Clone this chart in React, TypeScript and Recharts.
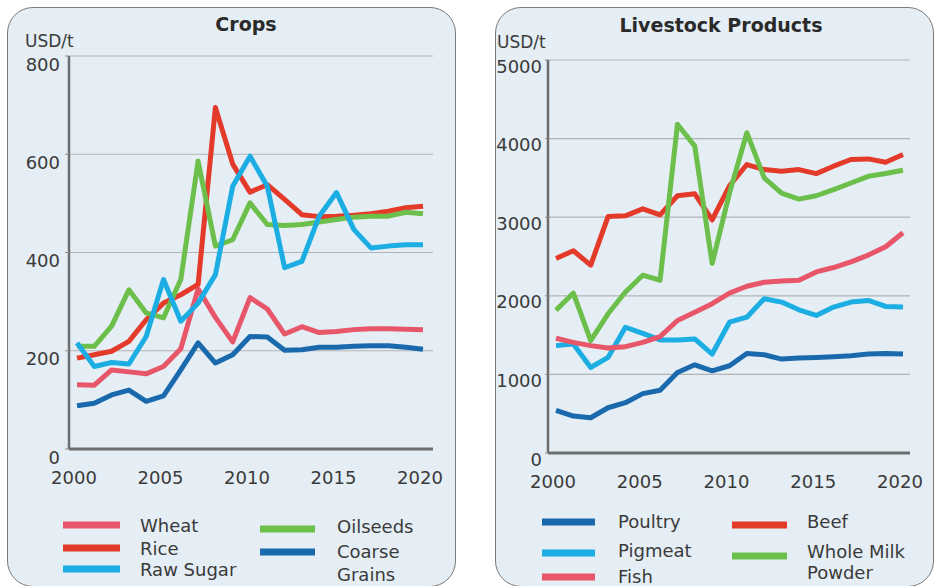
import React from 'react';
import { LineChart, Line, XAxis, YAxis, CartesianGrid, Legend } from 'recharts';

// ---------- Data ----------
const years = [2000, 2001, 2002, 2003, 2004, 2005, 2006, 2007, 2008, 2009, 2010, 2011, 2012, 2013, 2014, 2015, 2016, 2017, 2018, 2019, 2020];
const xTicks = [2000, 2005, 2010, 2015, 2020];

// Crops (USD/t)
const wheat = [131, 130, 161, 157, 153, 168, 204, 326, 268, 218, 308, 285, 234, 249, 237, 239, 243, 245, 245, 244, 243];
const rice = [185, 192, 199, 219, 263, 297, 314, 335, 695, 580, 523, 538, 508, 477, 473, 474, 476, 479, 484, 491, 494];
const rawSugar = [216, 168, 176, 173, 229, 345, 260, 297, 355, 535, 596, 535, 369, 382, 474, 522, 447, 409, 413, 416, 416];
const oilseeds = [209, 209, 250, 324, 277, 267, 345, 586, 413, 426, 501, 457, 455, 457, 462, 467, 472, 474, 474, 482, 479];
const coarseGrains = [88, 93, 110, 120, 97, 108, 161, 216, 175, 192, 229, 228, 201, 202, 207, 207, 209, 210, 210, 207, 203];
const cropTicks = [0, 200, 400, 600, 800];

// Livestock products (USD/t)
const poultry = [542, 470, 448, 576, 640, 755, 798, 1024, 1122, 1046, 1110, 1267, 1250, 1195, 1208, 1216, 1225, 1238, 1259, 1267, 1259];
const pigmeat = [1366, 1387, 1088, 1216, 1600, 1523, 1439, 1439, 1451, 1259, 1664, 1728, 1963, 1920, 1822, 1750, 1856, 1920, 1941, 1865, 1856];
const fish = [1460, 1408, 1366, 1336, 1353, 1408, 1481, 1686, 1792, 1900, 2035, 2121, 2172, 2189, 2198, 2304, 2360, 2432, 2518, 2624, 2803];
const beef = [2475, 2573, 2390, 3008, 3017, 3106, 3030, 3273, 3298, 2966, 3400, 3670, 3606, 3585, 3606, 3555, 3649, 3734, 3742, 3700, 3798];
const wholeMilkPowder = [1815, 2035, 1430, 1771, 2048, 2262, 2198, 4182, 3904, 2411, 3307, 4075, 3500, 3307, 3230, 3273, 3350, 3435, 3520, 3555, 3597];
const livestockTicks = [0, 1000, 2000, 3000, 4000, 5000];

// ---------- Tables ----------
const cropsData = years.map((year, i) => ({
  year,
  wheat: wheat[i],
  rice: rice[i],
  rawSugar: rawSugar[i],
  oilseeds: oilseeds[i],
  coarseGrains: coarseGrains[i],
}));

const livestockData = years.map((year, i) => ({
  year,
  poultry: poultry[i],
  pigmeat: pigmeat[i],
  fish: fish[i],
  beef: beef[i],
  wholeMilkPowder: wholeMilkPowder[i],
}));

// ---------- Styles ----------
const PINK = '#e8566a';
const RED = '#e43a2a';
const CYAN = '#1caee2';
const GREEN = '#6cbf4a';
const BLUE = '#1a69ad';

const FONT = '"DejaVu Sans", sans-serif';
const TEXT = '#3a3a3a';

const cropSeries = [
  { key: 'wheat', name: 'Wheat', color: PINK },
  { key: 'coarseGrains', name: 'Coarse Grains', color: BLUE },
  { key: 'rice', name: 'Rice', color: RED },
  { key: 'oilseeds', name: 'Oilseeds', color: GREEN },
  { key: 'rawSugar', name: 'Raw Sugar', color: CYAN },
];

const livestockSeries = [
  { key: 'poultry', name: 'Poultry', color: BLUE },
  { key: 'pigmeat', name: 'Pigmeat', color: CYAN },
  { key: 'fish', name: 'Fish', color: PINK },
  { key: 'beef', name: 'Beef', color: RED },
  { key: 'wholeMilkPowder', name: 'Whole Milk Powder', color: GREEN },
];

// legend layout (chart-relative coordinates)
const cropLegendPos: Record<string, any> = {
  wheat: { x1: 63, x2: 120, y: 525, tx: 140, lines: [['Wheat', 525]] },
  rice: { x1: 63, x2: 120, y: 548, tx: 140, lines: [['Rice', 548]] },
  rawSugar: { x1: 63, x2: 120, y: 569, tx: 140, lines: [['Raw Sugar', 569]] },
  oilseeds: { x1: 260, x2: 315, y: 529, tx: 337, lines: [['Oilseeds', 526]] },
  coarseGrains: { x1: 260, x2: 315, y: 552, tx: 337, lines: [['Coarse', 551], ['Grains', 574]] },
};

const livestockLegendPos: Record<string, any> = {
  poultry: { x1: 72, x2: 125, y: 522, tx: 148, lines: [['Poultry', 521]] },
  pigmeat: { x1: 72, x2: 125, y: 553, tx: 148, lines: [['Pigmeat', 550]] },
  fish: { x1: 72, x2: 125, y: 577, tx: 148, lines: [['Fish', 576]] },
  beef: { x1: 262, x2: 317, y: 525, tx: 337, lines: [['Beef', 521]] },
  wholeMilkPowder: { x1: 262, x2: 317, y: 556, tx: 337, lines: [['Whole Milk', 551], ['Powder', 572]] },
};

const makeLegend = (pos: Record<string, any>, w: number, h: number) => (props: any) => {
  const payload = props.payload || [];
  return (
    <svg width={w} height={h} style={{ position: 'absolute', left: 0, top: 0, overflow: 'visible' }}>
      {payload.map((item: any) => {
        const p = pos[item.dataKey];
        if (!p) return null;
        return (
          <g key={item.dataKey}>
            <line x1={p.x1} x2={p.x2} y1={p.y} y2={p.y} stroke={item.color} strokeWidth={7} />
            {p.lines.map((ln: any, i: number) => (
              <text key={i} x={p.tx} y={ln[1]} dominantBaseline="central" fontSize={18} fontFamily={FONT} fill={TEXT}>
                {ln[0]}
              </text>
            ))}
          </g>
        );
      })}
    </svg>
  );
};

const XTick = (props: any) => {
  const { x, y, payload } = props;
  return (
    <text x={x - 3} y={y + 13} textAnchor="middle" fontSize={18} fontFamily={FONT} fill={TEXT}>
      {payload.value}
    </text>
  );
};

const makeYTick = (dy: number) => (props: any) => {
  const { x, y, payload } = props;
  return (
    <text x={x} y={y + dy} textAnchor="end" dominantBaseline="central" fontSize={18} fontFamily={FONT} fill={TEXT}>
      {payload.value}
    </text>
  );
};

const panelStyle = (left: number, width: number): React.CSSProperties => ({
  position: 'absolute',
  left,
  top: 7,
  width,
  height: 580,
  boxSizing: 'border-box',
  border: '1.2px solid #7a7a7a',
  borderRadius: 26,
  background: '#e5eef5',
});

export default function App() {
  const LW = 460;
  const RW = 465;
  const H = 586;
  return (
    <div style={{ position: 'absolute', left: 0, top: 0, width: 935, height: 586, overflow: 'hidden', background: '#ffffff' }}>
      <div style={panelStyle(7, 449)} />
      <div style={panelStyle(495, 439)} />

      {/* Crops */}
      <div style={{ position: 'absolute', left: 0, top: 0 }}>
        <LineChart width={LW} height={H} data={cropsData} margin={{ top: 56, right: 27, bottom: 107, left: 9 }}>
          <CartesianGrid horizontal vertical={false} stroke="#b3b3b3" strokeWidth={1.2} />
          <XAxis
            dataKey="year"
            type="number"
            domain={[2000, 2020]}
            ticks={xTicks}
            padding={{ left: 8, right: 10 }}
            axisLine={{ stroke: '#6e6e6e', strokeWidth: 3 }}
            tickLine={false}
            tickSize={0}
            tickMargin={22}
            height={30}
            tick={<XTick />}
            interval={0}
          />
          <YAxis
            type="number"
            domain={[0, 800]}
            ticks={cropTicks}
            width={60}
            axisLine={{ stroke: '#6e6e6e', strokeWidth: 2.5 }}
            tickLine={{ stroke: '#8a8a8a' }}
            tickSize={4}
            tickMargin={5}
            tick={makeYTick(8)}
            interval={0}
          />
          <Legend
            layout="horizontal"
            verticalAlign="middle"
            align="center"
            wrapperStyle={{ left: 0, top: 0, width: LW, height: H, pointerEvents: 'none' }}
            content={makeLegend(cropLegendPos, LW, H)}
          />
          {cropSeries.map((s) => (
            <Line
              key={s.key}
              dataKey={s.key}
              name={s.name}
              type="linear"
              stroke={s.color}
              strokeWidth={5}
              strokeLinejoin="round"
              dot={false}
              isAnimationActive={false}
            />
          ))}
        </LineChart>
      </div>

      {/* Livestock */}
      <div style={{ position: 'absolute', left: 470, top: 0 }}>
        <LineChart width={RW} height={H} data={livestockData} margin={{ top: 60, right: 25, bottom: 103, left: 18 }}>
          <CartesianGrid horizontal vertical={false} stroke="#b3b3b3" strokeWidth={1.2} />
          <XAxis
            dataKey="year"
            type="number"
            domain={[2000, 2020]}
            ticks={xTicks}
            padding={{ left: 8, right: 7 }}
            axisLine={{ stroke: '#6e6e6e', strokeWidth: 3 }}
            tickLine={false}
            tickSize={0}
            tickMargin={22}
            height={30}
            tick={<XTick />}
            interval={0}
          />
          <YAxis
            type="number"
            domain={[0, 5000]}
            ticks={livestockTicks}
            width={60}
            axisLine={{ stroke: '#6e6e6e', strokeWidth: 2.5 }}
            tickLine={{ stroke: '#8a8a8a' }}
            tickSize={3}
            tickMargin={3}
            tick={makeYTick(6)}
            interval={0}
          />
          <Legend
            layout="horizontal"
            verticalAlign="middle"
            align="center"
            wrapperStyle={{ left: 0, top: 0, width: RW, height: H, pointerEvents: 'none' }}
            content={makeLegend(livestockLegendPos, RW, H)}
          />
          {livestockSeries.map((s) => (
            <Line
              key={s.key}
              dataKey={s.key}
              name={s.name}
              type="linear"
              stroke={s.color}
              strokeWidth={5}
              strokeLinejoin="round"
              dot={false}
              isAnimationActive={false}
            />
          ))}
        </LineChart>
      </div>

      {/* Titles and unit labels */}
      <svg width={935} height={60} style={{ position: 'absolute', left: 0, top: 0, pointerEvents: 'none' }}>
        <text x={246} y={31} textAnchor="middle" fontSize={19} fontWeight="bold" fontFamily={FONT} fill="#2a2a2a">Crops</text>
        <text x={721} y={32} textAnchor="middle" fontSize={19} fontWeight="bold" fontFamily={FONT} fill="#2a2a2a">Livestock Products</text>
        <text x={25} y={47} fontSize={17} fontFamily={FONT} fill={TEXT}>USD/t</text>
        <text x={497} y={48} fontSize={17} fontFamily={FONT} fill={TEXT}>USD/t</text>
      </svg>
    </div>
  );
}
